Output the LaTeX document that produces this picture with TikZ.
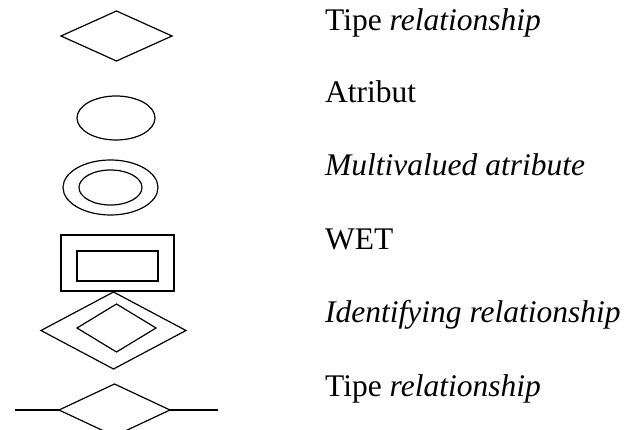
\documentclass[tikz,border=0pt]{standalone}
\usepackage{fontspec}
\setmainfont{Liberation Serif}
\usetikzlibrary{shapes.geometric}
\begin{document}
\begin{tikzpicture}[x=1pt,y=-1pt,
  shp/.style={draw=black,line width=1.2pt,inner sep=0pt,outer sep=0pt},
  rel/.style={shp,diamond},
  att/.style={shp,ellipse},
  box/.style={shp,rectangle},
  lbl/.style={anchor=base west,inner sep=0pt,font=\fontsize{31.5}{36}\selectfont}]
\useasboundingbox (0,0) rectangle (627,430);
\clip (0,0) rectangle (627,430);
% 1 relationship
\node[rel,minimum width=111pt,minimum height=50pt] (r1) at (116.5,36) {};
% 2 attribute
\node[att,minimum width=78pt,minimum height=44pt] (a1) at (116,118) {};
% 3 multivalued attribute
\node[att,minimum width=95pt,minimum height=55pt] (m1) at (110.5,187.5) {};
\node[att,minimum width=63pt,minimum height=35pt] (m2) at (110.5,187.5) {};
% 4 weak entity
\node[box,minimum width=113pt,minimum height=56pt] (w1) at (117.5,263) {};
\node[box,minimum width=81pt,minimum height=30pt] (w2) at (117.5,266) {};
% 5 identifying relationship
\node[rel,minimum width=145pt,minimum height=77pt] (i1) at (113.5,330.5) {};
\node[rel,minimum width=79pt,minimum height=48pt] (i2) at (116.5,328) {};
% 6 relationship with lines
\node[rel,minimum width=111pt,minimum height=52pt] (r2) at (114.5,410) {};
\coordinate (le) at (15,410);
\coordinate (re) at (218,410);
\draw[line width=1.2pt] (le) -- (r2.west);
\draw[line width=1.2pt] (r2.east) -- (re);
% labels
\node[lbl] (t1) at (325,31) {Tipe \textit{relationship}};
\node[lbl] (t2) at (325,103) {Atribut};
\node[lbl] (t3) at (325,176) {\textit{Multivalued atribute}};
\node[lbl] (t4) at (325,250) {WET};
\node[lbl] (t5) at (325,323) {\textit{Identifying relationship}};
\node[lbl] (t6) at (325,397) {Tipe \textit{relationship}};
\end{tikzpicture}
\end{document}
